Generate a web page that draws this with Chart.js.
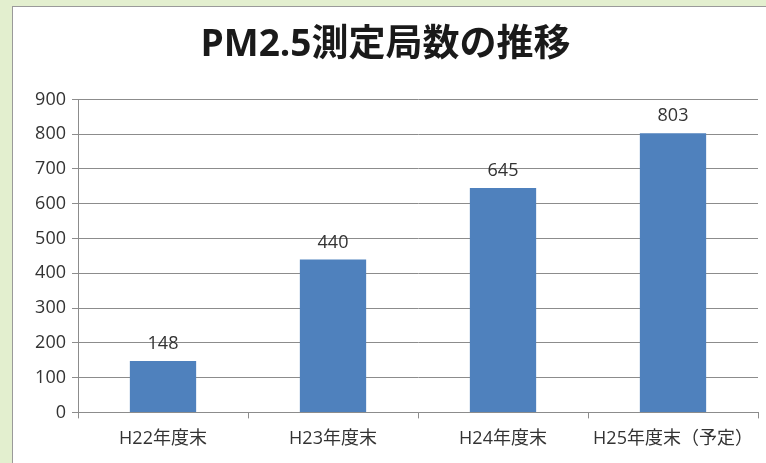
<!DOCTYPE html>
<html>
<head>
<meta charset="utf-8">
<script src="https://cdn.jsdelivr.net/npm/chart.js@4"></script>
<style>
  html, body { margin: 0; padding: 0; background: #e3efcf; }
  #panel {
    position: absolute; left: 12px; top: 6px; width: 754px; height: 457px;
    background: #fff; border-left: 1px solid #9a9a9a; border-top: 1px solid #9a9a9a;
  }
</style>
</head>
<body>
<div id="panel"><canvas id="mychart" width="753" height="456"></canvas></div>
<script>
// categories and values
const categories = ['H22年度末', 'H23年度末', 'H24年度末', 'H25年度末（予定）'];
const stations = [148, 440, 645, 803];
const yTicks = [0, 100, 200, 300, 400, 500, 600, 700, 800, 900];

const fontFamily = "'Open Sans', 'Noto Sans CJK JP', sans-serif";

// draw the value above each bar
const barValues = {
    id: 'barValues',
    afterDatasetsDraw(chart) {
        const ctx = chart.ctx;
        const meta = chart.getDatasetMeta(0);
        ctx.save();
        ctx.fillStyle = '#333';
        ctx.font = '18px ' + fontFamily;
        ctx.textAlign = 'center';
        ctx.textBaseline = 'bottom';
        meta.data.forEach((bar, i) => {
            ctx.fillText(chart.data.datasets[0].data[i], bar.x, bar.y - 8);
        });
        ctx.restore();
    }
};

var ctx = document.getElementById('mychart').getContext('2d');
var chart = new Chart(ctx, {
    type: 'bar',
    data: {
        labels: categories,
        datasets: [{
            data: stations,
            backgroundColor: '#4f81bd',
            barPercentage: 0.39,
            categoryPercentage: 1.0
        }]
    },
    options: {
        responsive: false,
        animation: false,
        layout: { padding: { left: 0, right: 8, top: 0, bottom: 3 } },
        plugins: {
            legend: { display: false },
            tooltip: { enabled: false },
            title: {
                display: true,
                text: 'PM2.5測定局数の推移',
                color: '#1a1a1a',
                font: { family: fontFamily, size: 37, weight: 'bold' },
                padding: { top: 16, bottom: 32 }
            }
        },
        scales: {
            x: {
                grid: { display: true, offset: true, drawOnChartArea: false, tickLength: 6, color: '#8c8c8c' },
                border: { color: '#8c8c8c' },
                ticks: { color: '#333', font: { family: fontFamily, size: 18 }, padding: 10, maxRotation: 0 },
                afterFit: axis => { axis.paddingLeft = 0; axis.paddingRight = 0; }
            },
            y: {
                min: 0,
                max: 900,
                afterBuildTicks: axis => { axis.ticks = yTicks.map(v => ({ value: v })); },
                afterFit: axis => { axis.width = 65; },
                grid: { color: '#8c8c8c', tickLength: 6 },
                border: { color: '#8c8c8c' },
                ticks: { color: '#333', font: { family: fontFamily, size: 18 }, padding: 6 }
            }
        }
    },
    plugins: [barValues]
});
</script>
</body>
</html>
